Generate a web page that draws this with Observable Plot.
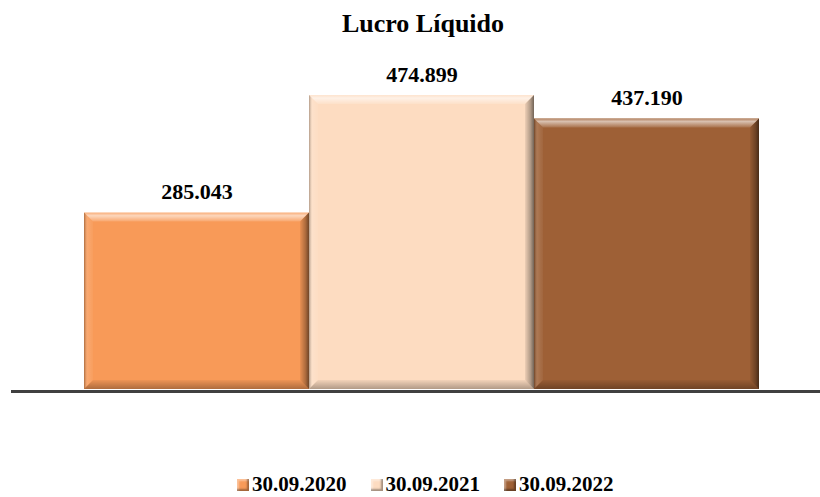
<!DOCTYPE html>
<html>
<head>
<meta charset="utf-8">
<script src="https://cdn.jsdelivr.net/npm/d3@7"></script>
<script src="https://cdn.jsdelivr.net/npm/@observablehq/plot@0.6"></script>
<style>
  html, body { margin: 0; padding: 0; background: #fff; }
  #wrap { position: relative; width: 820px; height: 497px; overflow: hidden; font-family: "Liberation Serif", "Times New Roman", serif; }
  #title { position: absolute; left: 0; width: 846px; top: 11px; text-align: center; font-size: 26px; line-height: 26px; font-weight: bold; color: #000; }
  #legend { position: absolute; left: 237px; top: 474px; display: flex; gap: 24px; font-size: 21px; line-height: 21px; font-weight: bold; color: #000; white-space: nowrap; }
  .item { display: inline-block; }
  .sw { display: inline-block; width: 12px; height: 12px; margin-right: 3px; vertical-align: baseline; box-sizing: border-box; }
  #chart { position: absolute; left: 0; top: 0; }
</style>
</head>
<body>
<div id="wrap">
  <div id="chart"></div>
  <div id="title"></div>
  <div id="legend"></div>
</div>
<script>
const title = "Lucro Líquido";
const series = ["30.09.2020", "30.09.2021", "30.09.2022"];
const values = [285.043, 474.899, 437.190];
const valueLabels = ["285.043", "474.899", "437.190"];
const colors = ["#F89A58", "#FDDCC1", "#9E6036"];

const data = series.map((s, i) => ({ s, v: values[i], label: valueLabels[i] }));

function bevel(index, scales, vals, dims, context, next) {
  const g = next(index, scales, vals, dims, context);
  const doc = context.document;
  const ns = "http://www.w3.org/2000/svg";
  const defs = doc.createElementNS(ns, "defs");
  const grads = {
    bvTop: [[0, 0, 0, 1], [[0, "#fff", 0.2], [0.35, "#fff", 0.6], [1, "#fff", 0.12]]],
    bvLeft: [[0, 0, 1, 0], [[0, "#000", 0.3], [0.35, "#fff", 0.15], [1, "#fff", 0.04]]],
    bvRight: [[0, 0, 1, 0], [[0, "#000", 0.06], [0.6, "#000", 0.3], [1, "#000", 0.55]]],
    bvBottom: [[0, 0, 0, 1], [[0, "#000", 0.04], [1, "#000", 0.3]]]
  };
  for (const [id, [[x1, y1, x2, y2], stops]] of Object.entries(grads)) {
    const lg = doc.createElementNS(ns, "linearGradient");
    lg.setAttribute("id", id);
    lg.setAttribute("x1", x1); lg.setAttribute("y1", y1);
    lg.setAttribute("x2", x2); lg.setAttribute("y2", y2);
    for (const [o, c, a] of stops) {
      const st = doc.createElementNS(ns, "stop");
      st.setAttribute("offset", o);
      st.setAttribute("stop-color", c);
      st.setAttribute("stop-opacity", a);
      lg.appendChild(st);
    }
    defs.appendChild(lg);
  }
  g.insertBefore(defs, g.firstChild);
  const rects = Array.from(g.querySelectorAll("rect"));
  const b = 9;
  for (const r of rects) {
    const x = +r.getAttribute("x"), y = +r.getAttribute("y");
    const w = +r.getAttribute("width"), h = +r.getAttribute("height");
    const polys = [
      [[[x, y], [x + w, y], [x + w - b, y + b], [x + b, y + b]], "url(#bvTop)"],
      [[[x, y], [x + b, y + b], [x + b, y + h - b], [x, y + h]], "url(#bvLeft)"],
      [[[x + w, y], [x + w, y + h], [x + w - b, y + h - b], [x + w - b, y + b]], "url(#bvRight)"],
      [[[x, y + h], [x + b, y + h - b], [x + w - b, y + h - b], [x + w, y + h]], "url(#bvBottom)"]
    ];
    for (const [pts, fill] of polys) {
      const p = doc.createElementNS(ns, "polygon");
      p.setAttribute("points", pts.map(d => d.join(",")).join(" "));
      p.setAttribute("fill", fill);
      g.appendChild(p);
    }
  }
  return g;
}

const chart = Plot.plot({
  width: 820,
  height: 497,
  marginTop: 79.5,
  marginBottom: 108,
  marginLeft: 11,
  marginRight: 0,
  x: { domain: series, range: [83, 760], padding: 0, axis: null },
  y: { domain: [0, 500], axis: null },
  color: { domain: series, range: colors },
  marks: [
    Plot.barY(data, { x: "s", y: "v", fill: "s", render: bevel }),
    Plot.ruleY([0], { stroke: "#404040", strokeWidth: 3, dy: 2 }),
    Plot.text(data, {
      x: "s", y: "v", text: "label", lineAnchor: "bottom", dy: -14,
      fontSize: 22, fontWeight: "bold", fontFamily: "Liberation Serif", fill: "#000"
    })
  ]
});
document.getElementById("chart").appendChild(chart);

document.getElementById("title").textContent = title;
const legend = document.getElementById("legend");
series.forEach((s, i) => {
  const item = document.createElement("span");
  item.className = "item";
  const sw = document.createElement("span");
  sw.className = "sw";
  sw.style.background = colors[i];
  sw.style.boxShadow = "inset -2px -2px 2px rgba(0,0,0,0.35), inset 2px 2px 2px rgba(255,255,255,0.4)";
  item.appendChild(sw);
  item.appendChild(document.createTextNode(s));
  legend.appendChild(item);
});
</script>
</body>
</html>
